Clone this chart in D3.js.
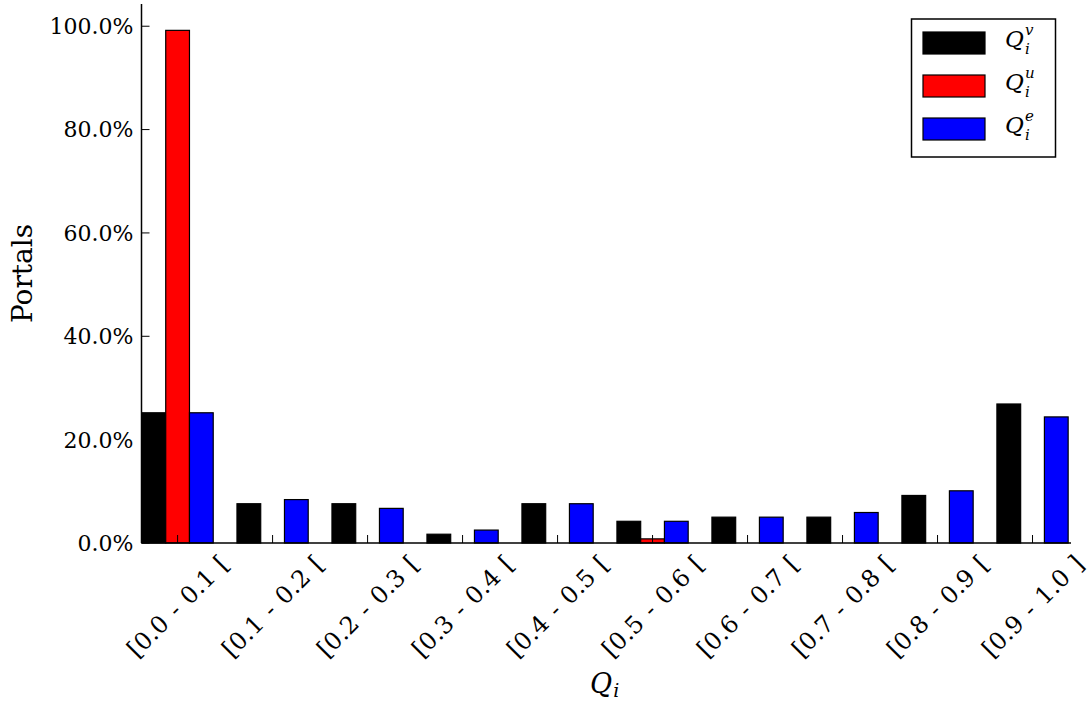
<!DOCTYPE html>
<html>
<head>
<meta charset="utf-8">
<script src="https://cdn.jsdelivr.net/npm/d3@7"></script>
<style>
  body { margin: 0; background: #fff; }
  svg { display: block; font-family: "DejaVu Serif", serif; }
</style>
</head>
<body>
<svg id="chart"></svg>
<script>
const categories = ["[0.0 - 0.1 [", "[0.1 - 0.2 [", "[0.2 - 0.3 [", "[0.3 - 0.4 [", "[0.4 - 0.5 [",
  "[0.5 - 0.6 [", "[0.6 - 0.7 [", "[0.7 - 0.8 [", "[0.8 - 0.9 [", "[0.9 - 1.0 ]"];
const qv = [25.2, 7.6, 7.6, 1.7, 7.6, 4.2, 5.0, 5.0, 9.2, 26.9];
const qu = [99.2, 0, 0, 0, 0, 0.8, 0, 0, 0, 0];
const qe = [25.2, 8.4, 6.7, 2.5, 7.6, 4.2, 5.0, 5.9, 10.1, 24.4];
const yTicks = [0, 20, 40, 60, 80, 100];

const series = [
  { key: "v", values: qv, color: "#000000" },
  { key: "u", values: qu, color: "#ff0000" },
  { key: "e", values: qe, color: "#0000ff" }
];

const width = 1092, height = 706;
const margin = { top: 4, right: 21, bottom: 163, left: 141.5 };
const barW = 0.25;

const svg = d3.select("#chart").attr("width", width).attr("height", height);

const x = d3.scaleLinear()
  .domain([-0.38, 9.405])
  .range([margin.left, width - margin.right]);

const y = d3.scaleLinear()
  .domain([0, 104.3])
  .range([height - margin.bottom, margin.top]);

// bars
series.forEach((s, si) => {
  svg.append("g")
    .selectAll("rect")
    .data(s.values)
    .enter()
    .append("rect")
    .attr("x", (d, i) => x(i - 0.375 + si * barW))
    .attr("y", d => y(d))
    .attr("width", x(barW) - x(0))
    .attr("height", d => y(0) - y(d))
    .attr("fill", s.color)
    .attr("stroke", "#000")
    .attr("stroke-width", 1.2);
});

// spines
const x0 = margin.left, x1 = width - margin.right, yb = y(0);
svg.append("line").attr("x1", x0).attr("x2", x0).attr("y1", margin.top).attr("y2", yb)
  .attr("stroke", "#000").attr("stroke-width", 1.5);
svg.append("line").attr("x1", x0).attr("x2", x1).attr("y1", yb).attr("y2", yb)
  .attr("stroke", "#000").attr("stroke-width", 1.5);

// y ticks (inward)
const yAxis = svg.append("g");
yTicks.forEach(t => {
  yAxis.append("line").attr("x1", x0).attr("x2", x0 + 8).attr("y1", y(t)).attr("y2", y(t))
    .attr("stroke", "#000").attr("stroke-width", 1);
  yAxis.append("text")
    .attr("x", x0 - 8)
    .attr("y", y(t))
    .attr("dy", "0.36em")
    .attr("text-anchor", "end")
    .attr("font-size", 22)
    .text(t.toFixed(1) + "%");
});

// x ticks (inward) and rotated labels
const xAxis = svg.append("g");
categories.forEach((c, i) => {
  const cx = x(i);
  xAxis.append("line").attr("x1", cx).attr("x2", cx).attr("y1", yb).attr("y2", yb - 8)
    .attr("stroke", "#000").attr("stroke-width", 1);
  const t = xAxis.append("text")
    .attr("text-anchor", "middle")
    .attr("font-size", 24)
    .attr("word-spacing", 2)
    .attr("dy", "0.36em")
    .text(c);
  const w = t.node().getComputedTextLength();
  const h = 18;
  const cy = 553 + (w + h) / (2 * Math.SQRT2);
  t.attr("transform", `translate(${cx},${cy}) rotate(-45)`);
});

// axis labels
svg.append("text")
  .attr("transform", `translate(32,${(margin.top + yb) / 2}) rotate(-90)`)
  .attr("text-anchor", "middle")
  .attr("font-size", 28)
  .text("Portals");

const xl = svg.append("text")
  .attr("x", 590)
  .attr("y", 693)
  .attr("font-size", 27)
  .attr("font-style", "italic");
xl.append("tspan").text("Q");
xl.append("tspan").attr("font-size", 19).attr("dy", 4).attr("dx", 1).text("i");

// legend
const legend = svg.append("g");
legend.append("rect")
  .attr("x", 911.5).attr("y", 19).attr("width", 144).attr("height", 138)
  .attr("fill", "#fff").attr("stroke", "#000").attr("stroke-width", 1.5);
series.forEach((s, si) => {
  const ly = 32 + si * 43;
  legend.append("text")
    .attr("x", 1005).attr("y", ly + 15)
    .attr("font-size", 23).attr("font-style", "italic")
    .text("Q");
  legend.append("text")
    .attr("x", 1025).attr("y", ly + 3)
    .attr("font-size", 15).attr("font-style", "italic")
    .text(s.key);
  legend.append("text")
    .attr("x", 1025).attr("y", ly + 22)
    .attr("font-size", 15).attr("font-style", "italic")
    .text("i");
  legend.append("rect")
    .attr("x", 923).attr("y", ly).attr("width", 62).attr("height", 22)
    .attr("fill", s.color).attr("stroke", "#000").attr("stroke-width", 1.2);
});
</script>
</body>
</html>
